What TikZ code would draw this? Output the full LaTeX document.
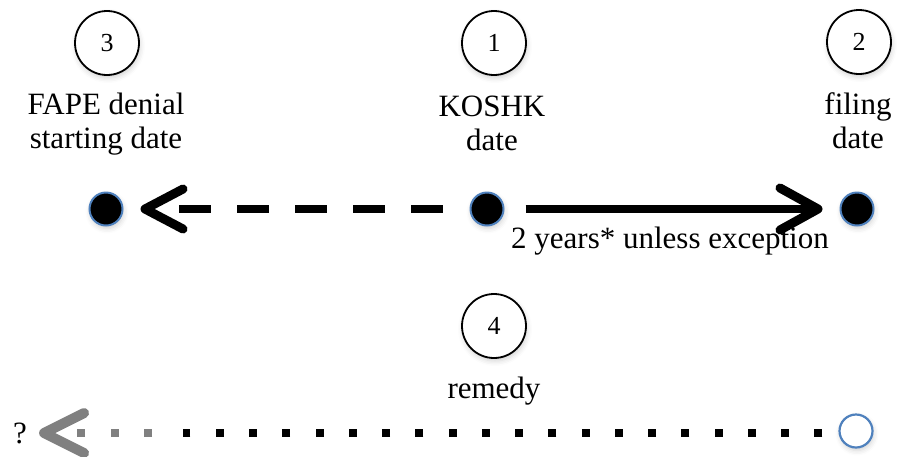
\documentclass[tikz,border=0pt]{standalone}
\usepackage{fontspec}
\setmainfont{Liberation Serif}
\usetikzlibrary{arrows.meta,shadows.blur}
\definecolor{obl}{RGB}{79,129,189}
\definecolor{agray}{RGB}{128,128,128}
\begin{document}
\begin{tikzpicture}[x=1pt,y=-1pt,
  softshadow/.style={blur shadow={shadow xshift=1pt,shadow yshift=-3pt,shadow blur radius=5pt,shadow opacity=18}},
  numcirc/.style={circle,draw=black,line width=1.8pt,fill=white,minimum size=64pt,inner sep=0pt,
    font=\fontsize{26}{26}\selectfont,softshadow},
  lbl/.style={align=center,font=\fontsize{31}{34}\selectfont,inner sep=0pt,anchor=base},
  dotnode/.style={circle,fill=black,draw=obl,line width=2pt,minimum size=33pt,inner sep=0pt,softshadow},
  opennode/.style={circle,fill=white,draw=obl,line width=2.2pt,minimum size=33pt,inner sep=0pt,softshadow},
  dasharrow/.style={line width=8pt,dash pattern=on 32pt off 26pt,
    -{Straight Barb[length=38pt,width=40pt,round,line width=9pt]}},
  solidarrow/.style={line width=8pt,
    -{Straight Barb[length=38pt,width=42pt,round,line width=9pt]}},
  dotline/.style={line width=8pt,dash pattern=on 8pt off 25.26pt},
  graydot/.style={draw=agray,line width=8pt,dash pattern=on 8pt off 25.5pt,
    -{Straight Barb[length=40pt,width=40pt,round,line width=10pt]}}]
\useasboundingbox (0,0) rectangle (899,456);
% top numbered circles
\node[numcirc] (c3) at (107,43) {3};
\node[numcirc] (c1) at (494,43) {1};
\node[numcirc] (c2) at (859,42) {2};
% labels (base anchor = last line baseline)
\node[lbl] (l3) at (106,148) {FAPE denial\\starting date};
\node[lbl] (l1) at (492,150) {KOSHK\\date};
\node[lbl] (l2) at (858,148) {filing\\date};
% timeline dots
\node[dotnode] (d1) at (106,209) {};
\node[dotnode] (d2) at (487,209) {};
\node[dotnode] (d3) at (857,209) {};
\draw[dasharrow] ([xshift=-27pt]d2.west) -- ([xshift=17pt]d1.east);
\draw[solidarrow] ([xshift=21pt]d2.east) -- ([xshift=-17pt]d3.west);
\node[lbl] (yrs) at (670,248) {2 years* unless exception};
% remedy
\node[numcirc] (c4) at (494,326) {4};
\node[lbl] (rem) at (494,398) {remedy};
% bottom row
\node[opennode] (d4) at (856,431) {};
\node[lbl] (qm) at (20,443) {?};
\coordinate (bk) at (183,433);
\coordinate (gy) at (152,433);
\draw[dotline] ([xshift=-16pt]d4.west |- bk) -- (bk);
\draw[graydot] (gy) -- ([xshift=12pt]qm.east |- gy);
\end{tikzpicture}
\end{document}
